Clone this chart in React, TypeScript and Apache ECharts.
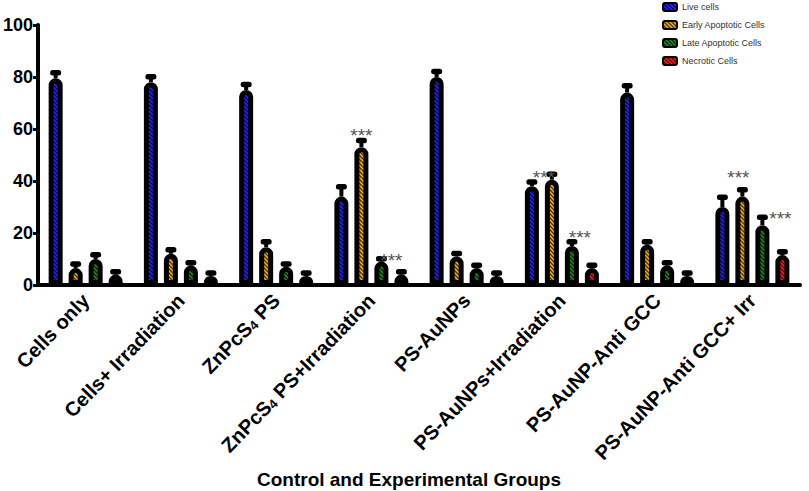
import React, { useEffect, useRef } from "react";
import * as echarts from "echarts";

const categories = [
  "Cells only",
  "Cells+ Irradiation",
  "ZnPcS₄ PS",
  "ZnPcS₄ PS+Irradiation",
  "PS-AuNPs",
  "PS-AuNPs+Irradiation",
  "PS-AuNP-Anti GCC",
  "PS-AuNP-Anti GCC+ Irr",
];
const seriesNames = ["Live cells", "Early Apoptotic Cells", "Late Apoptotic Cells", "Necrotic Cells"];
const liveCells = [79.5, 78, 75, 34, 80, 38, 74, 30];
const liveErr = [2, 2, 2, 3.7, 2, 1.5, 2.5, 3.7];
const earlyApoptotic = [6.5, 12, 14.5, 53, 11, 40.5, 15.5, 34];
const earlyErr = [1.5, 1.5, 2, 2.5, 1, 2, 1, 2.5];
const lateApoptotic = [10, 7.5, 7, 9, 6.5, 15, 7.5, 23];
const lateErr = [1.5, 1, 1, 1, 1, 1.5, 1, 3];
const necrotic = [4, 3.5, 3.5, 4, 3.5, 6.5, 3.5, 11.5];
const necroticErr = [1, 1, 1, 1, 1, 1, 1, 1.2];
// significance marks: [category index, bar slot, value]
const starMarks = [
  [3, 1, 59],
  [3, 2.5, 11],
  [5, 0.6, 43],
  [5, 2.4, 20],
  [7, 0.8, 43],
  [7, 2.9, 27],
];
const yTicks = { min: 0, max: 100, interval: 20 };

const FONT = 'Arial, "Liberation Sans", Helvetica, sans-serif';
const BAR_W = 14;
const BAR_GAP = 6;
const fills = ["#2a2af0", "#f5b400", "#1f8f1f", "#ff1a1a"];
const stripes = ["#000060", "#4a3000", "#002200", "#600000"];

const values = [liveCells, earlyApoptotic, lateApoptotic, necrotic];
const errors = [liveErr, earlyErr, lateErr, necroticErr];

const slotOffset = (k: number) => (k - 1.5) * (BAR_W + BAR_GAP);

function hatch(base: string, line: string): any {
  const s = 4;
  const cv = document.createElement("canvas");
  cv.width = s;
  cv.height = s;
  const ctx = cv.getContext("2d");
  if (!ctx) return base;
  ctx.fillStyle = base;
  ctx.fillRect(0, 0, s, s);
  ctx.strokeStyle = line;
  ctx.lineWidth = 1.3;
  ctx.beginPath();
  ctx.moveTo(-1, -1);
  ctx.lineTo(s + 1, s + 1);
  ctx.moveTo(-1, s - 1);
  ctx.lineTo(1, s + 1);
  ctx.moveTo(s - 1, -1);
  ctx.lineTo(s + 1, 1);
  ctx.stroke();
  return { image: cv.toDataURL(), repeat: "repeat" };
}

export default function App() {
  const ref = useRef<HTMLDivElement>(null);
  useEffect(() => {
    if (!ref.current) return;
    const chart = echarts.init(ref.current, undefined, { renderer: "svg" });

    const barSeries = seriesNames.map((name, i) => ({
      name,
      type: "bar",
      data: values[i],
      barWidth: BAR_W,
      barGap: `${(BAR_GAP / BAR_W) * 100}%`,
      z: 2,
      itemStyle: {
        color: hatch(fills[i], stripes[i]),
        borderColor: "#000",
        borderWidth: 5,
        borderRadius: [5, 5, 0, 0],
      },
    }));

    const errData: number[][] = [];
    values.forEach((vals, k) =>
      vals.forEach((v, c) => errData.push([c, k, v, errors[k][c]]))
    );

    const option: any = {
      animation: false,
      backgroundColor: "#fff",
      textStyle: { fontFamily: FONT },
      legend: {
        data: seriesNames,
        orient: "vertical",
        left: 662,
        top: 2,
        padding: 0,
        itemWidth: 14,
        itemHeight: 8,
        itemGap: 8,
        icon: "roundRect",
        itemStyle: { borderColor: "#000", borderWidth: 2 },
        textStyle: { fontSize: 9, color: "#333", fontFamily: FONT },
      },
      grid: { left: 38, top: 25, width: 762, height: 260 },
      xAxis: {
        type: "category",
        data: categories,
        boundaryGap: true,
        axisLine: { lineStyle: { color: "#000", width: 4 } },
        axisTick: { alignWithLabel: true, length: 5, lineStyle: { color: "#000", width: 3 } },
        axisLabel: {
          rotate: 46,
          margin: 12,
          interval: 0,
          color: "#000",
          fontWeight: "bold",
          fontSize: 20,
          fontFamily: FONT,
          formatter: (s: string) => s.replace("₄", "{sub|4}"),
          rich: {
            sub: {
              fontSize: 13,
              fontWeight: "bold",
              fontFamily: FONT,
              color: "#000",
              verticalAlign: "bottom",
            },
          },
        },
      },
      yAxis: {
        type: "value",
        min: yTicks.min,
        max: yTicks.max,
        interval: yTicks.interval,
        splitLine: { show: false },
        axisLine: { show: true, lineStyle: { color: "#000", width: 4 } },
        axisTick: { show: true, length: 5, lineStyle: { color: "#000", width: 3 } },
        axisLabel: {
          color: "#000",
          fontWeight: "bold",
          fontSize: 18,
          fontFamily: FONT,
          margin: 5,
        },
      },
      graphic: [
        {
          type: "text",
          x: 409,
          y: 479,
          style: {
            text: "Control and Experimental Groups",
            fontSize: 19,
            fontWeight: "bold",
            fontFamily: FONT,
            fill: "#000",
            align: "center",
            verticalAlign: "middle",
          },
        },
      ],
      series: [
        ...barSeries,
        {
          type: "custom",
          name: "errors",
          z: 3,
          data: errData,
          encode: { x: 0, y: 2 },
          renderItem: (_p: any, api: any) => {
            const c = api.value(0);
            const k = api.value(1);
            const v = api.value(2);
            const e = api.value(3);
            const base = api.coord([c, v]);
            const top = api.coord([c, v + e]);
            const cx = base[0] + slotOffset(k);
            return {
              type: "group",
              children: [
                {
                  type: "rect",
                  shape: { x: cx - 2, y: top[1], width: 4, height: base[1] - top[1] },
                  style: { fill: "#000" },
                },
                {
                  type: "rect",
                  shape: { x: cx - 5.5, y: top[1] - 3, width: 11, height: 5.5, r: 2.5 },
                  style: { fill: "#000" },
                },
              ],
            };
          },
        },
        {
          type: "custom",
          name: "stars",
          z: 4,
          data: starMarks,
          encode: { x: 0, y: 2 },
          renderItem: (_p: any, api: any) => {
            const c = api.value(0);
            const k = api.value(1);
            const v = api.value(2);
            const p = api.coord([c, v]);
            return {
              type: "text",
              x: p[0] + slotOffset(k),
              y: p[1] + 4,
              style: {
                text: "***",
                fontSize: 19,
                fontFamily: FONT,
                fill: "#555",
                align: "center",
                verticalAlign: "middle",
              },
            };
          },
        },
      ],
    };
    chart.setOption(option);
    return () => chart.dispose();
  }, []);
  return (
    <div
      ref={ref}
      style={{ position: "fixed", left: 0, top: 0, width: 809, height: 491, background: "#fff" }}
    />
  );
}
